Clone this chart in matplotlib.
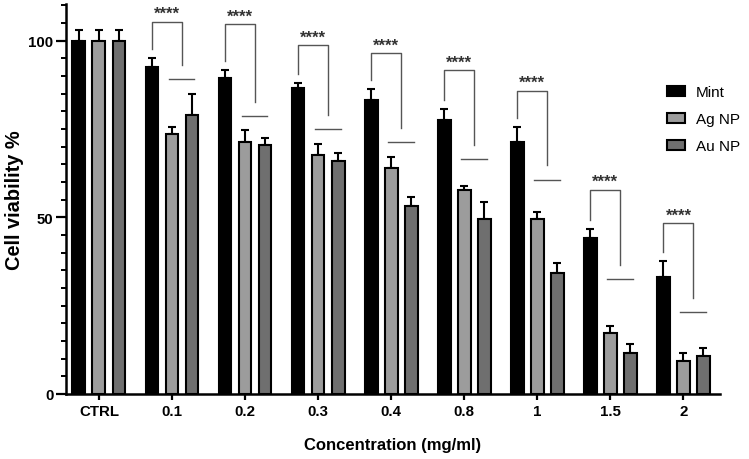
import matplotlib
matplotlib.use("Agg")
import matplotlib.pyplot as plt
from matplotlib.ticker import MultipleLocator
import numpy as np

plt.rcParams['font.family'] = ['Liberation Sans', 'DejaVu Sans']

categories = ["CTRL", "0.1", "0.2", "0.3", "0.4", "0.8", "1", "1.5", "2"]
series_names = ["Mint", "Ag NP", "Au NP"]
mint = [100, 92.5, 89.4, 86.5, 83.2, 77.6, 71.2, 44.1, 33.2]
mint_err = [3.0, 2.6, 2.4, 1.5, 3.1, 3.2, 4.3, 2.6, 4.4]
ag = [100, 73.6, 71.4, 67.6, 63.9, 57.8, 49.5, 17.3, 9.4]
ag_err = [3.0, 2.1, 3.3, 3.3, 3.1, 1.2, 2.1, 1.9, 2.2]
au = [100, 79.0, 70.5, 66.0, 53.3, 49.5, 34.2, 11.5, 10.7]
au_err = [3.0, 5.9, 1.9, 2.3, 2.6, 4.9, 2.8, 2.7, 2.2]
# significance annotation heights (groups 0.1 .. 2)
bracket_top = [105.4, 104.7, 98.8, 96.5, 91.7, 85.8, 57.8, 48.3]
sig_line = [89.2, 78.7, 75.0, 71.4, 66.5, 60.7, 32.5, 23.1]
sig_label = "****"

colors = ["#000000", "#9c9c9c", "#6f6f6f"]

fig = plt.figure(figsize=(7.49, 4.60), dpi=100)
ax = fig.add_axes([66/749, 65/460, (720-66)/749, (395-5)/460])

x = np.arange(len(categories))
off = 0.274
w = 0.175
vals = [mint, ag, au]
errs = [mint_err, ag_err, au_err]
for i in range(3):
    xi = x + (i - 1) * off
    ax.bar(xi, vals[i], width=w, color=colors[i], edgecolor="black",
           linewidth=1.5, label=series_names[i], zorder=2)
    ax.errorbar(xi, vals[i], yerr=[np.zeros(len(x)), errs[i]], fmt="none",
                ecolor="black", elinewidth=1.5, capsize=3, capthick=1.5, zorder=1)

lc = "#555555"
for j in range(1, len(categories)):
    k = j - 1
    xl = x[j] - off
    xr = x[j] + off / 2
    lb = mint[j] + mint_err[j] + 2.5
    top = bracket_top[k]
    rb = sig_line[k] + 4.0
    ax.plot([xl, xl, xr, xr], [lb, top, top, rb], color=lc, lw=1.0, zorder=3)
    ax.plot([xr - 0.18, xr + 0.17], [sig_line[k], sig_line[k]], color=lc, lw=1.0, zorder=3)
    ax.text((xl + xr) / 2, top + 0.2, sig_label, ha="center", va="bottom",
            fontsize=12, fontweight="bold", color="#333333")

ax.set_xlim(-0.45, 8.5)
ax.set_ylim(0, 110.4)
ax.set_xticks(x)
ax.set_xticklabels(categories, fontsize=10.8, fontweight="bold")
ax.set_yticks([0, 50, 100])
ax.set_yticklabels(["0", "50", "100"], fontsize=10.8, fontweight="bold")
ax.yaxis.set_minor_locator(MultipleLocator(5))
ax.tick_params(axis="y", which="major", length=7, width=1.6, pad=2)
ax.tick_params(axis="y", which="minor", length=3.5, width=1.4)
ax.tick_params(axis="x", which="major", length=4, width=1.6, pad=3)
for s in ["top", "right"]:
    ax.spines[s].set_visible(False)
for s in ["left", "bottom"]:
    ax.spines[s].set_linewidth(1.8)

ax.set_ylabel("Cell viability %", fontsize=14.4, fontweight="bold", labelpad=3)
ax.set_xlabel("Concentration (mg/ml)", fontsize=12, fontweight="bold", labelpad=14)

leg = ax.legend(loc="upper left", bbox_to_anchor=(661/749, 1 - 80/460),
                bbox_transform=fig.transFigure, frameon=False, fontsize=11,
                handlelength=1.2, handleheight=0.65, labelspacing=0.85,
                handletextpad=0.7, borderaxespad=0)

fig.savefig("out.png", dpi=100)
